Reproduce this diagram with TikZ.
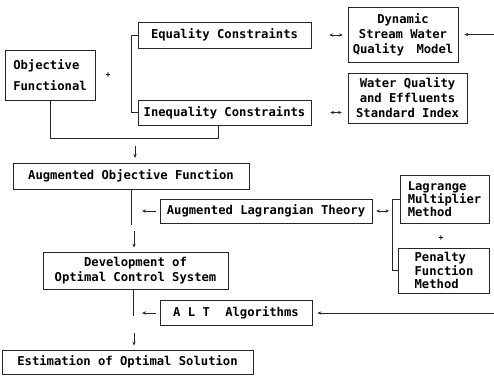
\documentclass[tikz,border=0pt]{standalone}
\usepackage{fontspec}
\newfontfamily\diamono{DejaVu Sans Mono}
\usetikzlibrary{arrows.meta}
\tikzset{
  bx/.style={draw=black!85, line width=0.7pt, rectangle, inner sep=0pt, align=center,
    font=\diamono\bfseries\fontsize{12.2}{15}\selectfont},
  ln/.style={draw=black!85, line width=0.7pt},
  tip/.style={ln, -{Stealth[length=4pt,width=3.2pt]}},
  dtip/.style={ln, {Stealth[length=3.5pt,width=3.2pt]}-{Stealth[length=3.5pt,width=3.2pt]}},
  plus/.style={font=\diamono\bfseries\fontsize{8}{8}\selectfont, inner sep=0pt}
}
\begin{document}
\begin{tikzpicture}[x=1pt,y=-1pt]
\useasboundingbox (0,0) rectangle (494,375);
% boxes
\node[bx, minimum width=90pt, minimum height=50pt, align=left,
  font=\diamono\bfseries\fontsize{12.2}{21}\selectfont] (obj) at (50,75) {Objective\\Functional};
\node[bx, minimum width=173pt, minimum height=26pt] (eq) at (224.5,35) {Equality Constraints};
\node[bx, minimum width=173pt, minimum height=25pt] (ineq) at (224.5,112.5) {Inequality Constraints};
\node[bx, minimum width=110pt, minimum height=55pt] (dyn) at (403,34.5) {Dynamic\\Stream Water\\Quality\hspace{5pt} Model};
\node[bx, minimum width=119pt, minimum height=50pt] (wq) at (407.5,98) {Water Quality\\and Effluents\\Standard Index};
\node[bx, minimum width=236pt, minimum height=26pt] (aug) at (131,176) {Augmented Objective Function};
\node[bx, minimum width=212pt, minimum height=24pt] (alag) at (266,211) {Augmented Lagrangian Theory};
\node[bx, minimum width=89pt, minimum height=48pt, align=left,
  font=\diamono\bfseries\fontsize{12.2}{13}\selectfont] (lag) at (444.5,199) {Lagrange\\Multiplier\\Method};
\node[bx, minimum width=91pt, minimum height=45pt, align=left,
  font=\diamono\bfseries\fontsize{12.2}{13.5}\selectfont] (pen) at (444,270.5) {Penalty\\Function\\Method};
\node[bx, minimum width=185pt, minimum height=37pt] (dev) at (135.5,270.5) {Development of\\Optimal Control System};
\node[bx, minimum width=152pt, minimum height=25pt] (alt) at (236,313) {A L T\hspace{8pt} Algorithms};
\node[bx, minimum width=251pt, minimum height=24pt] (est) at (127.5,362) {Estimation of Optimal Solution};
% plus signs
\node[plus] (p1) at (108,75) {+};
\node[plus] (p2) at (441,238) {+};
% coordinates
\coordinate (j1) at (218,138);
\coordinate (a1s) at (135,146);
\coordinate (a1e) at (135,158);
\coordinate (a2s) at (134,231);
\coordinate (a3s) at (134,333);
\coordinate (t1) at (142,211);
\coordinate (t2) at (142,313);
\coordinate (edge1) at (494,34.5);
\coordinate (edge2) at (494,313);
\coordinate (brk) at (393,211);
% connectors
\draw[ln] (eq.west) -- ++(-6,0) |- (ineq.west);
\draw[ln] (obj.south) |- (j1) -- (j1 |- ineq.south);
\draw[tip] (a1s) -- (a1e);
\draw[ln] (aug.south) -- ++(0,36);
\draw[tip, shorten >=4pt] (a2s) -- (a2s |- dev.north);
\draw[tip, shorten <=4pt] (alag.west) -- (t1);
\draw[dtip, shorten <=4pt, shorten >=4pt] (alag.east) -- (brk);
\draw[ln] (lag.west) -- ++(-7,0) |- (pen.west);
\draw[ln] (dev.south -| 133,0) -- ++(0,27);
\draw[tip, shorten >=4pt] (a3s) -- (a3s |- est.north);
\draw[tip, shorten <=4pt] (alt.west) -- (t2);
\draw[tip, shorten >=5pt] (edge2) -- (alt.east);
\draw[tip, shorten >=6pt] (edge1) -- (dyn.east);
\draw[dtip, shorten <=18pt, shorten >=5pt] (eq.east) -- (eq.east -| dyn.west);
\draw[dtip, shorten <=19pt, shorten >=6pt] (ineq.east) -- (ineq.east -| wq.west);
\end{tikzpicture}
\end{document}
